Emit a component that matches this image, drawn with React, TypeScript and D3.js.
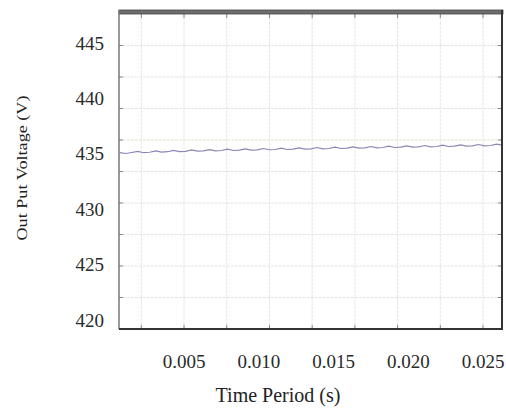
import React, { useEffect, useRef } from 'react'
import * as d3 from 'd3'

// time (s) and output voltage (V)
const time = [
  0.0007, 0.0011, 0.0015, 0.0019, 0.0023, 0.0027, 0.0031, 0.0035, 0.0039, 0.0043,
  0.0047, 0.0051, 0.0055, 0.0059, 0.0063, 0.0067, 0.0071, 0.0075, 0.0079, 0.0083,
  0.0087, 0.0091, 0.0095, 0.0099, 0.0103, 0.0107, 0.0111, 0.0115, 0.0119, 0.0123,
  0.0127, 0.0131, 0.0135, 0.0139, 0.0143, 0.0147, 0.0151, 0.0155, 0.0159, 0.0163,
  0.0167, 0.0171, 0.0175, 0.0179, 0.0183, 0.0187, 0.0191, 0.0195, 0.0199, 0.0203,
  0.0207, 0.0211, 0.0215, 0.0219, 0.0223, 0.0227, 0.0231, 0.0235, 0.0239, 0.0243,
  0.0247, 0.0251, 0.0255, 0.0259, 0.0262,
]
const voltage = [
  435.10, 435.03, 435.12, 435.22, 435.10, 435.14, 435.26, 435.16, 435.19, 435.31,
  435.20, 435.23, 435.35, 435.24, 435.27, 435.38, 435.27, 435.30, 435.42, 435.30,
  435.33, 435.45, 435.34, 435.36, 435.48, 435.37, 435.39, 435.51, 435.39, 435.42,
  435.54, 435.42, 435.45, 435.57, 435.45, 435.48, 435.60, 435.48, 435.51, 435.63,
  435.51, 435.54, 435.66, 435.54, 435.57, 435.69, 435.57, 435.60, 435.72, 435.60,
  435.63, 435.75, 435.63, 435.66, 435.78, 435.66, 435.69, 435.81, 435.69, 435.72,
  435.84, 435.72, 435.75, 435.87, 435.80,
]

const xTicks = [0.005, 0.010, 0.015, 0.020, 0.025]
const yTicks = [445, 440, 435, 430, 425, 420]

const W = 506
const H = 408
const margin = { top: 14, right: 4, bottom: 79, left: 119 }

export default function App() {
  const ref = useRef<SVGSVGElement>(null)

  useEffect(() => {
    const svg = d3.select(ref.current)
    svg.selectAll('*').remove()

    const width = W - margin.left - margin.right
    const height = H - margin.top - margin.bottom

    const x = d3.scaleLinear().domain([0.00065, 0.02627]).range([0, width])
    const y = d3.scaleLinear().domain([419.19, 447.62]).range([height, 0])

    const g = svg.append('g')
      .attr('transform', `translate(${margin.left}, ${margin.top})`)

    // grid: vertical lines every 1/7 of the labelled span, horizontal in 10 parts
    const xStep = (0.025 - 0.005) / 7
    const xGrid = d3.range(-1, 8).map(i => 0.005 + i * xStep)
    const [y0, y1] = y.domain()
    const yGrid = d3.range(1, 10).map(i => y0 + i * (y1 - y0) / 10)

    g.selectAll('.vgrid')
      .data(xGrid)
      .enter().append('line')
      .attr('x1', d => x(d)).attr('x2', d => x(d))
      .attr('y1', 0).attr('y2', height)
      .style('stroke', '#e4e4e4')
      .style('stroke-dasharray', '3,1')
      .style('stroke-width', 1)

    g.selectAll('.hgrid')
      .data(yGrid)
      .enter().append('line')
      .attr('x1', 0).attr('x2', width)
      .attr('y1', d => y(d)).attr('y2', d => y(d))
      .style('stroke', (d, i) => i === 5 ? '#e6e2c8' : '#e4e4e4')
      .style('stroke-dasharray', '3,1')
      .style('stroke-width', 1)

    // small inward ticks
    g.selectAll('.lt').data(yGrid).enter().append('line')
      .attr('x1', 0).attr('x2', 4)
      .attr('y1', d => y(d)).attr('y2', d => y(d))
      .style('stroke', '#888')
    g.selectAll('.rt').data(yGrid).enter().append('line')
      .attr('x1', width - 4).attr('x2', width)
      .attr('y1', d => y(d)).attr('y2', d => y(d))
      .style('stroke', '#888')
    g.selectAll('.bt').data(xGrid).enter().append('line')
      .attr('x1', d => x(d)).attr('x2', d => x(d))
      .attr('y1', height - 4).attr('y2', height)
      .style('stroke', '#888')
    g.selectAll('.tt').data(xGrid).enter().append('line')
      .attr('x1', d => x(d)).attr('x2', d => x(d))
      .attr('y1', 0).attr('y2', 4)
      .style('stroke', '#888')

    // signal
    const line = d3.line<number>()
      .x((d, i) => x(time[i]))
      .y(d => y(d))
    g.append('path')
      .datum(voltage)
      .attr('d', line)
      .style('fill', 'none')
      .style('stroke', '#8a86b8')
      .style('stroke-width', 1.2)

    // frame
    g.append('rect')
      .attr('x', 0).attr('y', -4)
      .attr('width', width + 1).attr('height', 4)
      .style('fill', '#6e6e6e')
      .style('stroke', '#444')
      .style('stroke-width', 0.8)
    g.append('line')
      .attr('x1', 0).attr('x2', 0).attr('y1', -4).attr('y2', height)
      .style('stroke', '#777').style('stroke-width', 1.5)
    g.append('line')
      .attr('x1', width).attr('x2', width).attr('y1', -4).attr('y2', height + 1)
      .style('stroke', '#333').style('stroke-width', 2)
    g.append('line')
      .attr('x1', 0).attr('x2', width + 1).attr('y1', height).attr('y2', height)
      .style('stroke', '#333').style('stroke-width', 2)

    const font = '"Liberation Serif", "Times New Roman", serif'

    // tick labels
    g.selectAll('.ylab').data(yTicks).enter().append('text')
      .attr('x', -15)
      .attr('y', d => y(d))
      .attr('dy', '0.35em')
      .attr('text-anchor', 'end')
      .style('font-family', font)
      .style('font-size', '19px')
      .style('fill', '#2a2a2a')
      .text(d => d)

    g.selectAll('.xlab').data(xTicks).enter().append('text')
      .attr('x', d => x(d))
      .attr('y', height + 39)
      .attr('text-anchor', 'middle')
      .style('font-family', font)
      .style('font-size', '19px')
      .style('fill', '#2a2a2a')
      .text(d => d.toFixed(3))

    // axis titles
    svg.append('text')
      .attr('x', 278).attr('y', 402)
      .attr('text-anchor', 'middle')
      .style('font-family', font)
      .style('font-size', '20px')
      .style('fill', '#222')
      .text('Time Period (s)')

    svg.append('text')
      .attr('transform', 'translate(27, 168) rotate(-90)')
      .attr('text-anchor', 'middle')
      .attr('textLength', 145)
      .attr('lengthAdjust', 'spacingAndGlyphs')
      .style('font-family', font)
      .style('font-size', '14px')
      .style('fill', '#222')
      .text('Out Put Voltage (V)')
  }, [])

  return (
    <svg
      ref={ref}
      width={W}
      height={H}
      style={{ position: 'absolute', left: 0, top: 0, background: '#fff' }}
    />
  )
}
